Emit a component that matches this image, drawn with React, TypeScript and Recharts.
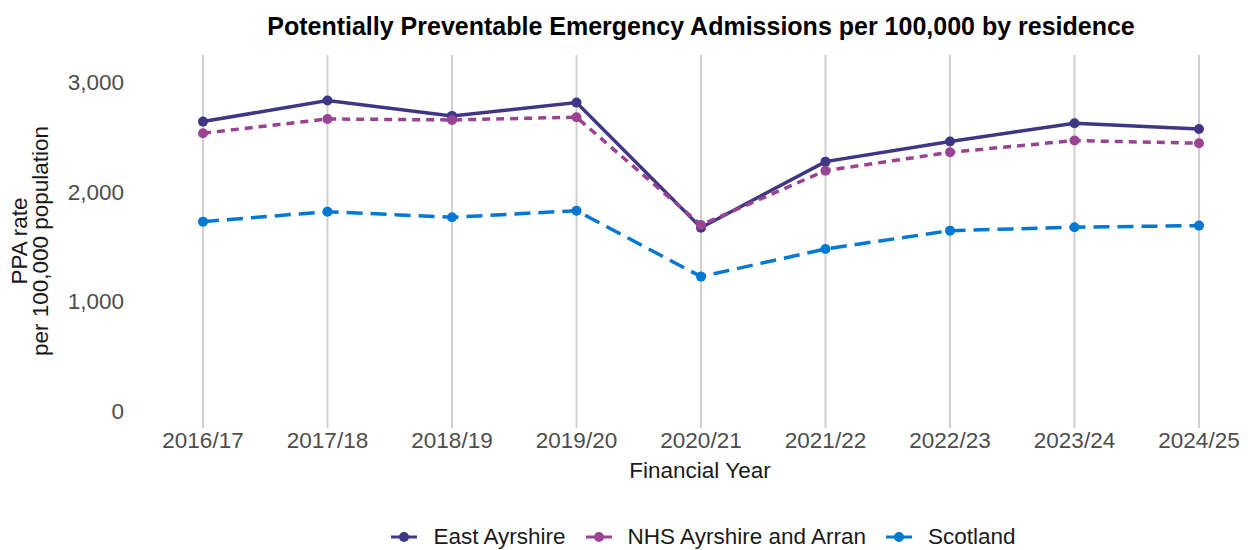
import { CartesianGrid, Line, LineChart, XAxis, YAxis } from "recharts";

const years = ["2016/17", "2017/18", "2018/19", "2019/20", "2020/21", "2021/22", "2022/23", "2023/24", "2024/25"];
const eastAyrshire = [2638, 2830, 2690, 2811, 1671, 2273, 2456, 2623, 2571];
const nhsAyrshireArran = [2532, 2662, 2653, 2678, 1696, 2191, 2358, 2465, 2441];
const scotland = [1726, 1817, 1766, 1826, 1225, 1477, 1644, 1675, 1690];
const yTicks = [0, 1000, 2000, 3000];

const FONT = "'Liberation Sans', Arial, sans-serif";

const SERIES = [
  { key: "east", name: "East Ayrshire", color: "#3F3685", dash: undefined as string | undefined },
  { key: "nhs", name: "NHS Ayrshire and Arran", color: "#9B4393", dash: "8 6" },
  { key: "scot", name: "Scotland", color: "#0078D4", dash: "16 8" },
];

const data = years.map((year, i) => ({
  year,
  east: eastAyrshire[i],
  nhs: nhsAyrshireArran[i],
  scot: scotland[i],
}));

function YTitle() {
  return (
    <text
      transform="translate(31, 241) rotate(-90)"
      textAnchor="middle"
      fontFamily={FONT}
      fontSize={22.5}
      fill="#1a1a1a"
    >
      <tspan x={0} dy="-0.2em">PPA rate</tspan>
      <tspan x={0} dy="0.95em">per 100,000 population</tspan>
    </text>
  );
}

function XTitle() {
  return (
    <text x={700} y={478} textAnchor="middle" fontFamily={FONT} fontSize={22.5} fill="#1a1a1a">
      Financial Year
    </text>
  );
}

function LegendRow() {
  return (
    <div
      style={{
        position: "absolute",
        top: 524,
        left: 0,
        width: 1251,
        display: "flex",
        justifyContent: "center",
        alignItems: "center",
        fontFamily: FONT,
        fontSize: 22.5,
        color: "#1a1a1a",
        paddingLeft: 176,
        boxSizing: "border-box",
      }}
    >
      {SERIES.map((s) => (
        <div key={s.key} style={{ display: "flex", alignItems: "center", marginRight: 20 }}>
          <svg width={26} height={14} style={{ marginRight: 16 }}>
            <line x1={0} y1={7} x2={26} y2={7} stroke={s.color} strokeWidth={3} />
            <circle cx={13} cy={7} r={5} fill={s.color} />
          </svg>
          <span>{s.name}</span>
        </div>
      ))}
    </div>
  );
}

export default function App() {
  return (
    <div style={{ position: "absolute", left: 0, top: 0, width: 1251, height: 550, background: "#fff" }}>
      <div
        style={{
          position: "absolute",
          top: 12,
          left: 0,
          width: 1402,
          textAlign: "center",
          fontFamily: FONT,
          fontWeight: "bold",
          fontSize: 25,
          color: "#000",
        }}
      >
        Potentially Preventable Emergency Admissions per 100,000 by residence
      </div>
      <LineChart
        width={1251}
        height={550}
        data={data}
        margin={{ top: 55, right: 11, bottom: 0, left: 100 }}
      >
        <CartesianGrid horizontal={false} syncWithTicks stroke="#cfcfcf" strokeWidth={2} />
        <XAxis
          dataKey="year"
          axisLine={false}
          tickLine={false}
          tickSize={0}
          tickMargin={4}
          height={122}
          padding={{ left: 43, right: 41 }}
          tick={{ fontFamily: FONT, fontSize: 22.5, fill: "#4d4d4d" }}
          label={<XTitle />}
        />
        <YAxis
          domain={[-155, 3245]}
          ticks={yTicks}
          axisLine={false}
          tickLine={false}
          tickSize={0}
          tickMargin={36}
          width={60}
          tickFormatter={(v: number) => v.toLocaleString("en-GB")}
          tick={{ fontFamily: FONT, fontSize: 22.5, fill: "#4d4d4d" }}
          label={<YTitle />}
        />
        {SERIES.map((s) => (
          <Line
            key={s.key}
            dataKey={s.key}
            name={s.name}
            stroke={s.color}
            strokeWidth={3.5}
            strokeDasharray={s.dash}
            dot={{ r: 5, fill: s.color, stroke: s.color, strokeWidth: 0 }}
            type="linear"
            isAnimationActive={false}
          />
        ))}
      </LineChart>
      <LegendRow />
    </div>
  );
}
